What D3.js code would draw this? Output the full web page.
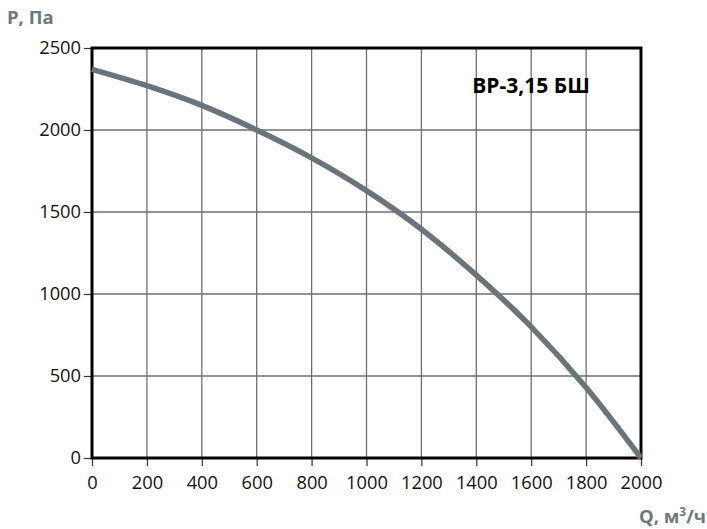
<!DOCTYPE html>
<html><head><meta charset="utf-8">
<script src="https://cdn.jsdelivr.net/npm/d3@7"></script>
<style>
body{margin:0;background:#fff;}
svg{display:block;font-family:"Open Sans",sans-serif;}
</style></head>
<body>
<svg id="c" width="707" height="529"></svg>
<script>
const qValues = [0, 200, 400, 600, 800, 1000, 1200, 1400, 1600, 1800, 2000];
const pValues = [2370, 2270, 2150, 2000, 1830, 1630, 1395, 1115, 800, 430, 0];
const xTicks = [0, 200, 400, 600, 800, 1000, 1200, 1400, 1600, 1800, 2000];
const yTicks = [0, 500, 1000, 1500, 2000, 2500];
const title = "ВР-3,15 БШ";
const yLabel = "P, Па";

const svg = d3.select("#c");
const m = {l:92, r:641, t:48, b:458};
const x = d3.scaleLinear().domain([0,2000]).range([m.l, m.r]);
const y = d3.scaleLinear().domain([0,2500]).range([m.b, m.t]);

// grid
svg.append("g").selectAll("line").data(xTicks.slice(1,-1)).join("line")
  .attr("x1",d=>x(d)).attr("x2",d=>x(d)).attr("y1",m.t).attr("y2",m.b)
  .attr("stroke","#6f6f6f").attr("stroke-width",1.3);
svg.append("g").selectAll("line").data(yTicks.slice(1,-1)).join("line")
  .attr("y1",d=>y(d)).attr("y2",d=>y(d)).attr("x1",m.l).attr("x2",m.r)
  .attr("stroke","#6f6f6f").attr("stroke-width",1.3);

// axes
const xa = svg.append("g").attr("transform",`translate(0,${m.b})`)
  .call(d3.axisBottom(x).tickValues(xTicks).tickSize(8).tickPadding(10).tickFormat(d3.format("d")));
const ya = svg.append("g").attr("transform",`translate(${m.l},0)`)
  .call(d3.axisLeft(y).tickValues(yTicks).tickSize(8).tickPadding(3).tickFormat(d3.format("d")));
[xa,ya].forEach(a=>{
  a.select(".domain").remove();
  a.selectAll(".tick line").attr("stroke","#333").attr("stroke-width",1.2);
  a.selectAll("text").attr("font-size",18.3).attr("fill","#111").attr("font-family","Open Sans, sans-serif");
});

// frame
svg.append("rect").attr("x",m.l).attr("y",m.t).attr("width",m.r-m.l).attr("height",m.b-m.t)
  .attr("fill","none").attr("stroke","#000").attr("stroke-width",3);

// curve
const line = d3.line().x((d,i)=>x(qValues[i])).y(d=>y(d)).curve(d3.curveMonotoneX);
svg.append("path").datum(pValues).attr("d",line)
  .attr("fill","none").attr("stroke","#69747b").attr("stroke-width",5.5).attr("stroke-linecap","butt");

// labels
svg.append("text").attr("x",7).attr("y",24).text(yLabel)
  .attr("font-size",18.5).attr("font-weight","bold").attr("fill","#6d7880");
const ql = svg.append("text").attr("x",706).attr("y",523).attr("text-anchor","end")
  .attr("font-size",18.5).attr("font-weight","bold").attr("fill","#6d7880");
ql.append("tspan").text("Q, м");
ql.append("tspan").text("3").attr("font-size",12).attr("dy",-7);
ql.append("tspan").text("/ч").attr("dy",7);

svg.append("text").attr("x",531).attr("y",93).attr("text-anchor","middle")
  .attr("font-size",21).attr("font-weight","bold").attr("fill","#000").text(title);
</script>
</body></html>
